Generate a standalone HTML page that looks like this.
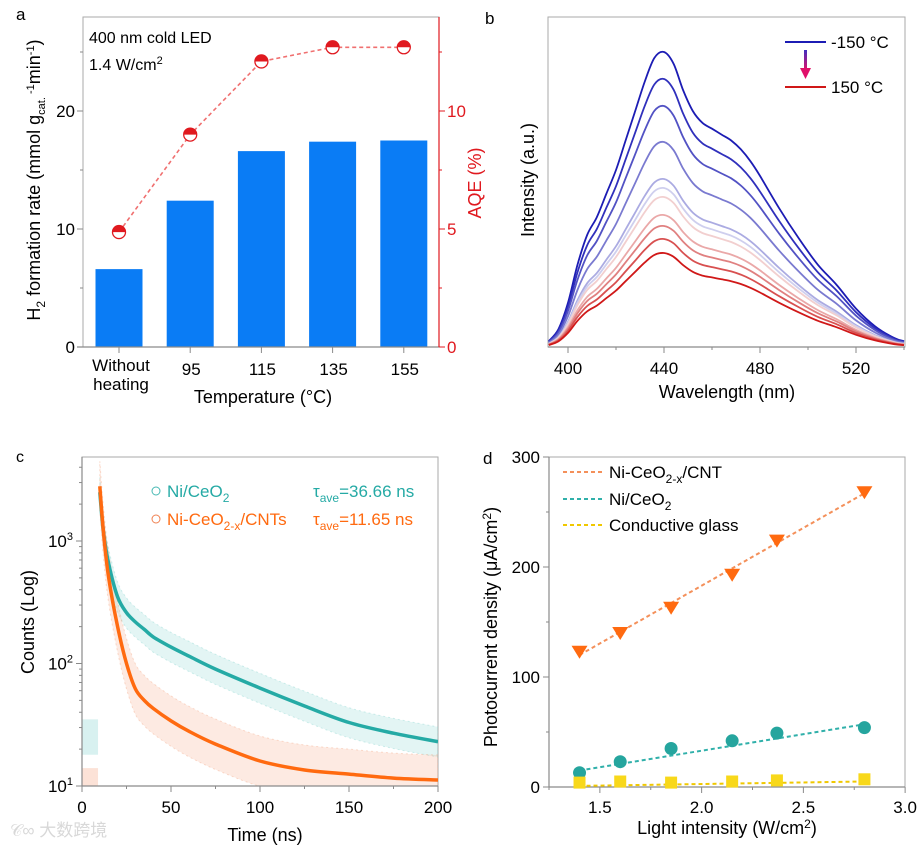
<!DOCTYPE html>
<html><head><meta charset="utf-8">
<style>
html,body{margin:0;padding:0;background:#fff;}
svg{display:block;font-family:"Liberation Sans","Noto Sans CJK SC",sans-serif;}
</style></head>
<body>
<svg id="fig" width="922" height="850" viewBox="0 0 922 850" xmlns="http://www.w3.org/2000/svg">
<defs>
<linearGradient id="arrowGrad" x1="0" y1="0" x2="0" y2="1"><stop offset="0" stop-color="#4030c0"/><stop offset="1" stop-color="#e0106a"/></linearGradient>
</defs>
<g id="pa"></g>
<g id="pb"></g>
<g id="pc"></g>
<g id="pd"></g>
<text x="10" y="836" font-size="17" fill="#d8d8d8">𝒞∞ 大数跨境</text>
</svg>
<script>
// ---------- Panel a data ----------
const aCategories = ["Without heating","95","115","135","155"];
const aRate = [6.6, 12.4, 16.6, 17.4, 17.5];
const aAQE = [4.87, 9.0, 12.1, 12.7, 12.7];
const aLeftTicks = [0,10,20];
const aRightTicks = [0,5,10];
// ---------- Panel b data ----------
const bWavelength = [392,396,400,404,408,412,416,420,424,428,432,436,440,444,448,452,456,460,464,468,472,476,480,488,496,504,512,520,528,536,540];
const bShape = [0.02,0.06,0.15,0.28,0.38,0.44,0.52,0.6,0.7,0.8,0.9,0.98,1.0,0.96,0.87,0.8,0.76,0.74,0.72,0.70,0.67,0.63,0.58,0.47,0.37,0.28,0.21,0.13,0.07,0.03,0.02];
const bPeak = [295,268,241,205,168,159,150,132,121,108,94];
const bColors = ["#1c1cb4","#3030bc","#5252c4","#7a7ad0","#ababe2","#cfcfee","#f2cfcf","#eaa8a8","#e08080","#d85050","#d01818"];
const bTicks = [400,440,480,520];
// ---------- Panel c data ----------
const cTime = [10,12,15,20,25,30,35,40,50,60,75,100,125,150,175,200];
const cTeal = [2500,1200,650,350,260,218,190,165,136,115,90,63,45,33,27,23];
const cOrange = [2800,1200,500,200,100,62,50,43,34,28,22,16,13.5,12.5,11.6,11.2];
const cXTicks = [0,50,100,150,200];
const cYTicks = [1,2,3];
// ---------- Panel d data ----------
const dIntensity = [1.4,1.6,1.85,2.15,2.37,2.8];
const dOrange = [123,140,163,193,224,268];
const dTeal = [13,23,35,42,49,54];
const dYellow = [4,5,4,5,6,7];
const dOrangeFit = [120,267];
const dTealFit = [15,57];
const dYellowFit = [1,5];
const dXTicks = [1.5,2.0,2.5,3.0];
const dYTicks = [0,100,200,300];

const NS="http://www.w3.org/2000/svg";
function mk(parent,tag,attrs,text){const e=document.createElementNS(NS,tag);for(const k in attrs)e.setAttribute(k,attrs[k]);if(text!==undefined)e.textContent=text;parent.appendChild(e);return e;}
function smooth(pts){let d="M"+pts[0][0]+","+pts[0][1];for(let i=0;i<pts.length-1;i++){const p0=pts[Math.max(0,i-1)],p1=pts[i],p2=pts[i+1],p3=pts[Math.min(pts.length-1,i+2)];const c1=[p1[0]+(p2[0]-p0[0])/6,p1[1]+(p2[1]-p0[1])/6],c2=[p2[0]-(p3[0]-p1[0])/6,p2[1]-(p3[1]-p1[1])/6];d+=" C"+c1[0].toFixed(1)+","+c1[1].toFixed(1)+" "+c2[0].toFixed(1)+","+c2[1].toFixed(1)+" "+p2[0].toFixed(1)+","+p2[1].toFixed(1);}return d;}
const AX="#8a8a8a";
const TF=17, TT=18;

// ================= Panel a =================
(function(){
const g=document.getElementById('pa');
const L=83,R=439,T=17,B=347;
const ya=v=>B-v*11.8, yr=v=>B-v*23.6;
const xa=i=>119+i*71.2;
let e=mk(g,'text',{x:16,y:20,'font-size':17},'a');

e=mk(g,'rect',{x:L,y:T,width:R-L,height:B-T,fill:'none',stroke:'#aaa','stroke-width':1});

aRate.forEach((v,i)=>{const b=mk(g,'rect',{x:xa(i)-23.5,y:ya(v),width:47,height:B-ya(v),fill:'#0a7cf5'});
});
mk(g,'line',{x1:L-6,y1:B,x2:R,y2:B,stroke:AX,'stroke-width':1.2});
mk(g,'line',{x1:R,y1:T,x2:R,y2:B,stroke:'#e0191f','stroke-width':1.2});
for(let v=0;v<=25;v+=5){mk(g,'line',{x1:L-(v%10==0?6:3),y1:ya(v),x2:L,y2:ya(v),stroke:AX});}
aLeftTicks.forEach(v=>{const t=mk(g,'text',{x:L-8,y:ya(v)+6,'font-size':TF,'text-anchor':'end'},String(v));});
for(let v=0;v<=12.5;v+=2.5){mk(g,'line',{x1:R,y1:yr(v),x2:R+(v%5==0?6:3),y2:yr(v),stroke:'#e0191f'});}
aRightTicks.forEach(v=>{const t=mk(g,'text',{x:R+8,y:yr(v)+6,'font-size':TF,fill:'#e0191f'},String(v));});
aCategories.forEach((c,i)=>{mk(g,'line',{x1:xa(i),y1:B,x2:xa(i),y2:B+6,stroke:AX});
 if(i==0){const t=mk(g,'text',{x:xa(i)+2,y:371,'font-size':TF,'text-anchor':'middle'},'Without');
 const t2=mk(g,'text',{x:xa(i)+2,y:390,'font-size':TF,'text-anchor':'middle'},'heating');}
 else{const t=mk(g,'text',{x:xa(i)+1,y:375,'font-size':TF,'text-anchor':'middle'},c);}});
e=mk(g,'polyline',{points:aAQE.map((v,i)=>xa(i)+','+yr(v)).join(' '),fill:'none',stroke:'#f07070','stroke-width':1.6,'stroke-dasharray':'4,3'});

aAQE.forEach((v,i)=>{const x=xa(i),y=yr(v),r=6.5;
 const c=mk(g,'circle',{cx:x,cy:y,r:r,fill:'#fff',stroke:'#e0191f','stroke-width':1.3});
 mk(g,'path',{d:`M${x-r},${y} A${r},${r} 0 0 1 ${x+r},${y} Z`,fill:'#e0191f'});});
e=mk(g,'text',{x:89,y:43,'font-size':16},'400 nm cold  LED');
e=mk(g,'text',{x:89,y:70,'font-size':16});
e.innerHTML='1.4 W/cm<tspan dy="-6" font-size="11">2</tspan>';
e=mk(g,'text',{x:263,y:403,'font-size':TT,'text-anchor':'middle'},'Temperature (°C)');
e=mk(g,'text',{transform:'translate(40,180) rotate(-90)','font-size':TT,'text-anchor':'middle'});
e.innerHTML='H<tspan dy="5" font-size="12">2</tspan><tspan dy="-5"> formation rate (mmol g</tspan><tspan dy="5" font-size="11">cat.</tspan><tspan dy="-11" font-size="11"> -1</tspan><tspan dy="6">min</tspan><tspan dy="-6" font-size="11">-1</tspan><tspan dy="6">)</tspan>';
e=mk(g,'text',{transform:'translate(481,183) rotate(-90)','font-size':TT,'text-anchor':'middle',fill:'#e0191f'},'AQE (%)');
})();

// ================= Panel b =================
(function(){
const g=document.getElementById('pb');
const L=548,R=905,T=17,B=347;
const xb=w=>568+(w-400)*2.4, yb=v=>B-v;
let e=mk(g,'text',{x:485,y:24,'font-size':17},'b');
e=mk(g,'rect',{x:L,y:T,width:R-L,height:B-T,fill:'none',stroke:'#aaa'});
mk(g,'line',{x1:L,y1:B,x2:R,y2:B,stroke:AX,'stroke-width':1.2});
for(let w=400;w<=540;w+=20){mk(g,'line',{x1:xb(w),y1:B,x2:xb(w),y2:B+(w%40==0?6:3),stroke:AX});}
bTicks.forEach(w=>{const t=mk(g,'text',{x:xb(w),y:374,'font-size':TF,'text-anchor':'middle'},String(w));});
const cp=mk(g,'clipPath',{id:'clipB'});mk(cp,'rect',{x:L,y:T,width:R-L,height:B-T});
bPeak.forEach((p,k)=>{const pts=bWavelength.map((w,i)=>[xb(w),yb(p*bShape[i])]);
 const c=mk(g,'path',{d:smooth(pts),fill:'none',stroke:bColors[k],'stroke-width':1.8,'clip-path':'url(#clipB)'});
 });
mk(g,'line',{x1:785,y1:42,x2:826,y2:42,stroke:'#1c1cb4','stroke-width':2});
e=mk(g,'text',{x:831,y:48,'font-size':TF},'-150 °C');
mk(g,'line',{x1:785,y1:87,x2:826,y2:87,stroke:'#d01818','stroke-width':2});
e=mk(g,'text',{x:831,y:93,'font-size':TF},'150 °C');
mk(g,'rect',{x:804,y:50,width:3,height:20,fill:'url(#arrowGrad)'});
e=mk(g,'path',{d:'M800,68 L811,68 L805.5,79 Z',fill:'#e0106a'});
e=mk(g,'text',{x:727,y:398,'font-size':TT,'text-anchor':'middle'},'Wavelength (nm)');
e=mk(g,'text',{transform:'translate(534,180) rotate(-90)','font-size':TT,'text-anchor':'middle'},'Intensity (a.u.)');
})();

// ================= Panel c =================
(function(){
const g=document.getElementById('pc');
const L=82,R=438,T=457,B=786;
const xc=t=>L+t*1.78, yc=v=>B-(Math.log10(v)-1)*122.5;
let e=mk(g,'text',{x:16,y:462,'font-size':16},'c');
e=mk(g,'rect',{x:L,y:T,width:R-L,height:B-T,fill:'none',stroke:'#aaa'});
const cp=mk(g,'clipPath',{id:'clipC'});mk(cp,'rect',{x:L,y:T,width:R-L,height:B-T});
function band(arr,lo,hi,col,name){const up=cTime.map((t,i)=>[xc(t),yc(arr[i]*hi)]);const dn=cTime.map((t,i)=>[xc(t),yc(arr[i]*lo)]).reverse();
 const d=smooth(up)+' L'+dn[0][0]+','+dn[0][1]+' '+smooth(dn).slice(1).replace(/^[^C]*/,'')+' Z';
 const p=mk(g,'path',{d:d,fill:col,'fill-opacity':0.22,stroke:col,'stroke-opacity':0.35,'stroke-width':1,'stroke-dasharray':'2,3','clip-path':'url(#clipC)'});
 }
band(cTeal,0.75,1.32,'#7fd0cc','teal-data-scatter');
band(cOrange,0.62,1.6,'#f4a07a','orange-data-scatter');
mk(g,'rect',{x:L,y:yc(35),width:xc(9)-L,height:yc(18)-yc(35),fill:'#7fd0cc','fill-opacity':0.3});
mk(g,'rect',{x:L,y:yc(14),width:xc(9)-L,height:B-yc(14),fill:'#f4a07a','fill-opacity':0.3});
e=mk(g,'path',{d:smooth(cTime.map((t,i)=>[xc(t),yc(cTeal[i])])),fill:'none',stroke:'#25aaa5','stroke-width':3.5,'clip-path':'url(#clipC)'});
e=mk(g,'path',{d:smooth(cTime.map((t,i)=>[xc(t),yc(cOrange[i])])),fill:'none',stroke:'#ff6a10','stroke-width':3.5,'clip-path':'url(#clipC)'});
mk(g,'line',{x1:L,y1:B,x2:R,y2:B,stroke:AX,'stroke-width':1.2});
mk(g,'line',{x1:L,y1:T,x2:L,y2:B,stroke:AX,'stroke-width':1.2});
for(let t=0;t<=200;t+=25){mk(g,'line',{x1:xc(t),y1:B,x2:xc(t),y2:B+(t%50==0?6:3),stroke:AX});}
cXTicks.forEach(t=>{const s=mk(g,'text',{x:xc(t),y:813,'font-size':TF,'text-anchor':'middle'},String(t));});
for(let p=1;p<=3;p++){for(let m=1;m<10;m++){const v=m*Math.pow(10,p);const y=yc(v);if(y<T)break;mk(g,'line',{x1:L-(m==1?6:3),y1:y,x2:L,y2:y,stroke:AX});}}
cYTicks.forEach(p=>{const s=mk(g,'text',{x:L-9,y:yc(Math.pow(10,p))+6,'font-size':TF,'text-anchor':'end'});
 s.innerHTML='10<tspan dy="-7" font-size="11">'+p+'</tspan>';});
mk(g,'circle',{cx:156,cy:491,r:4,fill:'none',stroke:'#45b8b3'});
e=mk(g,'text',{x:167,y:497,'font-size':TF,fill:'#25aaa5'});
e.innerHTML='Ni/CeO<tspan dy="5" font-size="12">2</tspan>';
mk(g,'circle',{cx:156,cy:519,r:4,fill:'none',stroke:'#f08050'});
e=mk(g,'text',{x:167,y:525,'font-size':TF,fill:'#ff6a10'});
e.innerHTML='Ni-CeO<tspan dy="5" font-size="12">2-x</tspan><tspan dy="-5">/CNTs</tspan>';
e=mk(g,'text',{x:313,y:497,'font-size':TF,fill:'#25aaa5'});
e.innerHTML='τ<tspan dy="5" font-size="12">ave</tspan><tspan dy="-5">=36.66 ns</tspan>';
e=mk(g,'text',{x:313,y:525,'font-size':TF,fill:'#ff6a10'});
e.innerHTML='τ<tspan dy="5" font-size="12">ave</tspan><tspan dy="-5">=11.65 ns</tspan>';
e=mk(g,'text',{x:265,y:841,'font-size':TT,'text-anchor':'middle'},'Time (ns)');
e=mk(g,'text',{transform:'translate(34,622) rotate(-90)','font-size':TT,'text-anchor':'middle'},'Counts (Log)');
})();

// ================= Panel d =================
(function(){
const g=document.getElementById('pd');
const L=549,R=905,T=457,B=787;
const xd=v=>L+(v-1.25)*203.5, yd=v=>B-v*1.1;
let e=mk(g,'text',{x:483,y:464,'font-size':17},'d');
e=mk(g,'rect',{x:L,y:T,width:R-L,height:B-T,fill:'none',stroke:'#aaa'});
mk(g,'line',{x1:L,y1:B,x2:R,y2:B,stroke:AX,'stroke-width':1.2});
mk(g,'line',{x1:L,y1:T,x2:L,y2:B,stroke:AX,'stroke-width':1.2});
for(let v=1.25;v<=3.001;v+=0.25){mk(g,'line',{x1:xd(v),y1:B,x2:xd(v),y2:B+(Math.abs(v*2-Math.round(v*2))<1e-6?6:3),stroke:AX});}
dXTicks.forEach(v=>{const t=mk(g,'text',{x:xd(v),y:813,'font-size':TF,'text-anchor':'middle'},v.toFixed(1));});
for(let v=0;v<=300;v+=50){mk(g,'line',{x1:L-(v%100==0?6:3),y1:yd(v),x2:L,y2:yd(v),stroke:AX});}
dYTicks.forEach(v=>{const t=mk(g,'text',{x:L-9,y:yd(v)+6,'font-size':TF,'text-anchor':'end'},String(v));});
const x0=dIntensity[0],x1=dIntensity[dIntensity.length-1];
function fit(f,col,name){const l=mk(g,'line',{x1:xd(x0),y1:yd(f[0]),x2:xd(x1),y2:yd(f[1]),stroke:col,'stroke-width':2,'stroke-dasharray':'4,3'});}
fit(dOrangeFit,'#f4905a','orange-fit-line');fit(dTealFit,'#30b0aa','teal-fit-line');fit(dYellowFit,'#f0c800','yellow-fit-line');
dOrange.forEach((v,i)=>{const x=xd(dIntensity[i]),y=yd(v);const p=mk(g,'path',{d:`M${x-8},${y-6} L${x+8},${y-6} L${x},${y+7} Z`,fill:'#ff6a10'});});
dTeal.forEach((v,i)=>{const c=mk(g,'circle',{cx:xd(dIntensity[i]),cy:yd(v),r:6.5,fill:'#25a59e'});});
dYellow.forEach((v,i)=>{const x=xd(dIntensity[i]),y=yd(v);const r=mk(g,'rect',{x:x-6,y:y-6,width:12,height:12,fill:'#f8d81a'});});
mk(g,'line',{x1:563,y1:472,x2:603,y2:472,stroke:'#f4905a','stroke-width':2,'stroke-dasharray':'4,3'});
e=mk(g,'text',{x:609,y:478,'font-size':TF});
e.innerHTML='Ni-CeO<tspan dy="5" font-size="12">2-x</tspan><tspan dy="-5">/CNT</tspan>';
mk(g,'line',{x1:563,y1:499,x2:603,y2:499,stroke:'#30b0aa','stroke-width':2,'stroke-dasharray':'4,3'});
e=mk(g,'text',{x:609,y:505,'font-size':TF});
e.innerHTML='Ni/CeO<tspan dy="5" font-size="12">2</tspan>';
mk(g,'line',{x1:563,y1:525,x2:603,y2:525,stroke:'#f0c800','stroke-width':2,'stroke-dasharray':'4,3'});
e=mk(g,'text',{x:609,y:531,'font-size':TF},'Conductive glass');
e=mk(g,'text',{x:727,y:834,'font-size':TT,'text-anchor':'middle'});
e.innerHTML='Light intensity (W/cm<tspan dy="-6" font-size="12">2</tspan><tspan dy="6">)</tspan>';
e=mk(g,'text',{transform:'translate(497,627) rotate(-90)','font-size':TT,'text-anchor':'middle'});
e.innerHTML='Photocurrent density (μA/cm<tspan dy="-6" font-size="12">2</tspan><tspan dy="6">)</tspan>';
})();
</script>
</body></html>
